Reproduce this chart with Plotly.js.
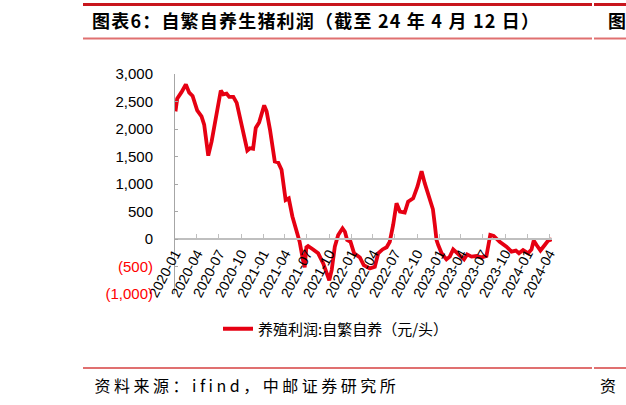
<!DOCTYPE html>
<html>
<head>
<meta charset="utf-8">
<script src="https://cdn.plot.ly/plotly-3.0.1.min.js"></script>
<style>
html,body{margin:0;padding:0;background:#fff;}
#chart{width:626px;height:405px;}
#chart g.annotation[data-index="0"] text{letter-spacing:1.2px;}
#chart g.annotation[data-index="2"] text{letter-spacing:3.5px;}
</style>
</head>
<body>
<div id="chart"></div>
<script>
// ---- data ----
const dates = [
 '2020-01-03','2020-01-10','2020-01-28','2020-02-15','2020-02-29','2020-03-14','2020-04-02','2020-04-20',
 '2020-05-01','2020-05-18','2020-06-01','2020-06-22','2020-07-09','2020-07-19','2020-08-02','2020-08-13',
 '2020-08-30','2020-09-13','2020-09-26','2020-10-13','2020-10-27','2020-11-07','2020-11-20','2020-12-01',
 '2020-12-15','2021-01-05','2021-01-15','2021-01-29','2021-02-18','2021-03-04','2021-03-18','2021-04-04',
 '2021-04-17','2021-05-02','2021-05-16','2021-05-27','2021-06-01','2021-06-15','2021-06-22','2021-06-29',
 '2021-07-06','2021-07-27','2021-08-17','2021-09-07','2021-10-02','2021-10-12','2021-10-25','2021-11-08',
 '2021-11-26','2021-12-06','2021-12-15','2021-12-29','2022-01-13','2022-02-06','2022-02-22','2022-03-19',
 '2022-04-09','2022-04-23','2022-05-11','2022-05-28','2022-06-10','2022-06-24','2022-07-08','2022-07-22',
 '2022-08-11','2022-08-25','2022-09-15','2022-10-03','2022-10-20','2022-11-02','2022-11-20','2022-12-06',
 '2022-12-14','2022-12-21','2022-12-28','2023-01-11','2023-01-31','2023-02-14','2023-02-28','2023-03-16',
 '2023-04-03','2023-04-14','2023-04-27','2023-05-15','2023-06-05','2023-06-25','2023-07-16','2023-08-01',
 '2023-08-15','2023-09-09','2023-10-07','2023-10-28','2023-11-15','2023-11-28','2023-12-15','2024-01-05',
 '2024-01-19','2024-01-28','2024-02-09','2024-02-25','2024-03-14','2024-03-28','2024-04-12'
];
const profit = [
 2320,2550,2670,2810,2660,2600,2340,2230,
 2080,1515,1775,2290,2700,2630,2645,2585,
 2585,2475,2200,1840,1610,1650,1640,2020,
 2120,2430,2320,1990,1410,1390,1260,710,
 740,410,195,60,-50,-385,-517,-150,
 -128,-190,-260,-445,-750,-565,-140,73,
 195,133,-18,-49,-260,-335,-475,-535,
 -505,-260,-190,-150,-50,255,650,500,
 480,680,740,955,1230,1015,740,540,
 255,-20,-110,-260,-370,-320,-190,-260,
 -320,-370,-280,-320,-310,-335,-310,73,
 55,-50,-140,-230,-210,-260,-200,-260,
 -190,-30,-110,-210,-110,-30,-5
];
const seriesName = '养殖利润:自繁自养（元/头）';
const yTickVals = [-1000,-500,0,500,1000,1500,2000,2500,3000];
const yTickText = ['(1,000)','(500)','0','500','1,000','1,500','2,000','2,500','3,000'];
const titleText = '图表6：自繁自养生猪利润（截至 24 年 4 月 12 日）';
const sourceText = '资料来源：ifind，中邮证券研究所';

// ---- layout helpers (pixel -> paper) ----
const W = 626, H = 405, M = {l:175, r:74, t:74, b:111};
const pw = W - M.l - M.r, ph = H - M.t - M.b;
const px = x => (x - M.l) / pw;
const py = y => (H - M.b - y) / ph;

const red = '#e60012';
const ticktext = yTickText.map((t, i) => yTickVals[i] < 0 ? '<span style="color:#ff0000">' + t + '</span>' : t);

const trace = {
  x: dates, y: profit, type: 'scatter', mode: 'lines', name: seriesName,
  line: {color: red, width: 3.8}
};

const hline = (x0, x1, y, color, w) => ({type:'line', xref:'paper', yref:'paper',
  x0: px(x0), x1: px(x1), y0: py(y), y1: py(y), line:{color: color, width: w}});

const layout = {
  width: W, height: H, margin: M, paper_bgcolor: '#fff', plot_bgcolor: '#fff',
  showlegend: true,
  font: {family: 'Liberation Sans, Arial, sans-serif', color: '#000'},
  xaxis: {
    type: 'date', range: ['2020-01-01', '2024-04-13'],
    anchor: 'free', position: 0.25,
    tick0: '2020-01-01', dtick: 'M3', tickformat: '%Y-%m', tickangle: -62,
    tickfont: {size: 14, family: 'Liberation Sans, Arial, sans-serif', color: '#000'},
    showline: true, linecolor: '#bfbfbf', linewidth: 2,
    ticks: 'inside', ticklen: 4, tickcolor: '#bfbfbf', tickwidth: 1,
    showgrid: false, zeroline: false
  },
  yaxis: {
    range: [-1000, 3000], tickvals: yTickVals, ticktext: ticktext,
    tickfont: {size: 15, family: 'Liberation Sans, Arial, sans-serif', color: '#000'},
    showline: true, linecolor: '#a6a6a6', linewidth: 1,
    ticks: 'inside', ticklen: 3, tickcolor: '#a6a6a6',
    ticklabelstandoff: 18,
    showgrid: false, zeroline: false
  },
  legend: {
    orientation: 'h', x: px(218), xanchor: 'left', y: py(329), yanchor: 'middle',
    font: {size: 15, family: 'Noto Sans CJK SC, sans-serif', color: '#000'},
    bgcolor: 'rgba(0,0,0,0)'
  },
  shapes: [
    hline(83, 592, 4.5, '#c8161d', 3),
    hline(594, 626, 4.5, '#c8161d', 3),
    hline(83, 592, 38.5, '#e07070', 2),
    hline(594, 626, 38.5, '#e07070', 2),
    hline(83, 592, 368, '#e07070', 2),
    hline(594, 626, 368, '#e07070', 2)
  ],
  annotations: [
    {text: titleText, xref:'paper', yref:'paper', x: px(108), y: py(20), xanchor:'left', yanchor:'middle',
     showarrow:false, font:{size: 18, family:'Noto Sans CJK SC, sans-serif', weight: 'bold', color:'#000'}},
    {text: '图', xref:'paper', yref:'paper', x: px(606), y: py(20), xanchor:'left', yanchor:'middle',
     showarrow:false, font:{size: 18, family:'Noto Sans CJK SC, sans-serif', weight: 'bold', color:'#000'}},
    {text: sourceText, xref:'paper', yref:'paper', x: px(124), y: py(385), xanchor:'left', yanchor:'middle',
     showarrow:false, font:{size: 16, family:'Noto Sans CJK SC, sans-serif', color:'#000'}},
    {text: '资', xref:'paper', yref:'paper', x: px(598), y: py(385), xanchor:'left', yanchor:'middle',
     showarrow:false, font:{size: 16, family:'Noto Sans CJK SC, sans-serif', color:'#000'}}
  ]
};

Plotly.newPlot('chart', [trace], layout, {staticPlot: true, displayModeBar: false});
</script>
</body>
</html>
